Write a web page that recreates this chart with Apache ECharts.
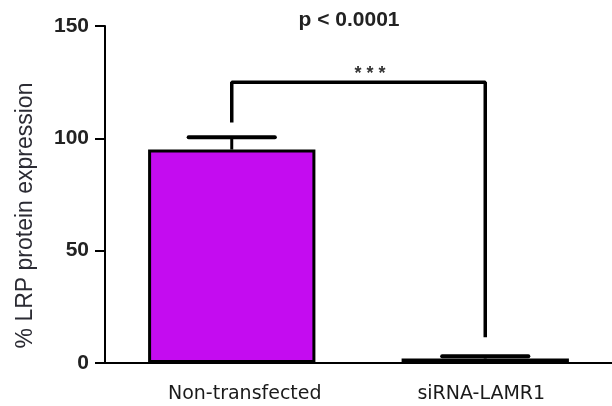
<!DOCTYPE html>
<html><head><meta charset="utf-8">
<script src="https://cdn.jsdelivr.net/npm/echarts@6/dist/echarts.min.js"></script>
<style>html,body{margin:0;padding:0;background:#fff}#c{width:612px;height:406px}</style>
</head><body><div id="c"></div>
<script>
const categories = ['Non-transfected', 'siRNA-LAMR1'];
const means = [95, 2];
const errors = [5.5, 1];
const bracketPath = [[0, 107], [0, 125], [1, 125], [1, 11.5]];
const yTicks = [0, 50, 100, 150];

const chart = echarts.init(document.getElementById('c'));
chart.setOption({
  animation: false,
  title: [
    {text: 'p < 0.0001', left: 344, top: 5, textAlign: 'center',
     textStyle: {fontFamily: 'Liberation Sans', fontSize: 21, fontWeight: 'bold', color: '#222'}},
    {text: '* * *', left: 365, top: 60, textAlign: 'center',
     textStyle: {fontFamily: 'Liberation Sans', fontSize: 18, fontWeight: 'bold', color: '#333'}}
  ],
  grid: {left: 105, right: 0, top: 26, bottom: 43},
  xAxis: {
    type: 'category', data: categories,
    axisLine: {lineStyle: {color: '#000', width: 2}},
    axisTick: {alignWithLabel: true, length: 8, lineStyle: {color: '#000', width: 2}},
    axisLabel: {interval: 0, hideOverlap: false, margin: 22, fontFamily: 'DejaVu Sans', fontSize: 19, color: '#1a1a1a',
      formatter: (v, i) => i === 0 ? '{a|' + v + '}' : '{b|' + v + '}',
      rich: {
        a: {fontFamily: 'DejaVu Sans', fontSize: 19, color: '#1a1a1a', padding: [0, 0, 0, 26]},
        b: {fontFamily: 'DejaVu Sans', fontSize: 19, color: '#1a1a1a', padding: [0, 8, 0, 0]}
      }}
  },
  yAxis: {
    type: 'value', min: 0, max: 150, interval: 50,
    name: '% LRP protein expression', nameLocation: 'middle', nameGap: 68, nameRotate: 90,
    nameTextStyle: {fontFamily: 'Liberation Sans', fontSize: 23, color: '#2b2b33', padding: [0, 42, 0, 0]},
    splitLine: {show: false},
    axisLine: {show: true, lineStyle: {color: '#000', width: 2}},
    axisTick: {show: true, length: 10, lineStyle: {color: '#000', width: 2}},
    axisLabel: {margin: 16, fontFamily: 'Liberation Sans', fontSize: 21, fontWeight: 'bold', color: '#222',
      formatter: v => yTicks.includes(v) ? String(v) : ''}
  },
  series: [
    {type: 'bar', data: means, barWidth: '66%', z: 3,
     itemStyle: {color: '#c40cf0', borderColor: '#000', borderWidth: 3}},
    {type: 'custom', z: 2,
     data: means.map((m, i) => [i, m, errors[i]]),
     renderItem: function (params, api) {
       const x = api.value(0), m = api.value(1), e = api.value(2);
       const top = api.coord([x, m + e]);
       const base = api.coord([x, m]);
       const w = api.size([1, 0])[0] * 0.34;
       return {type: 'group', children: [
         {type: 'line', shape: {x1: top[0], y1: top[1], x2: base[0], y2: base[1]}, style: {stroke: '#000', lineWidth: 3}},
         {type: 'line', shape: {x1: top[0] - w / 2, y1: top[1], x2: top[0] + w / 2, y2: top[1]}, style: {stroke: '#000', lineWidth: 4, lineCap: 'round'}}
       ]};
     }},
    {type: 'line', data: bracketPath, symbol: 'none', z: 4,
     lineStyle: {color: '#000', width: 3.5}}
  ]
});
</script></body></html>
